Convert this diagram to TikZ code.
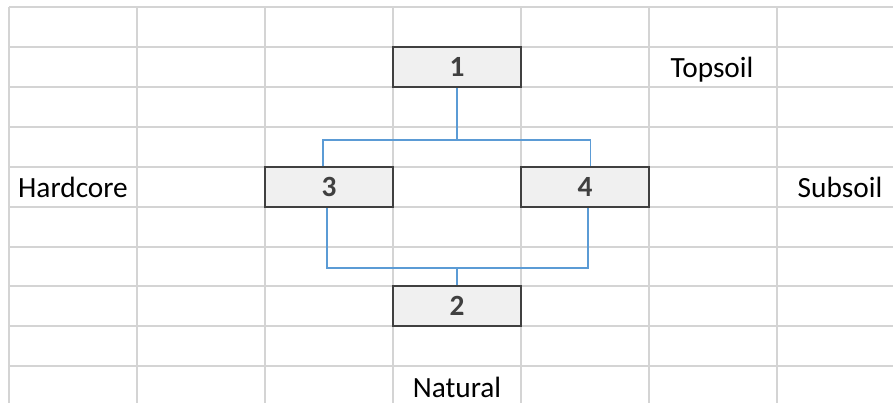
\documentclass[tikz,border=0pt]{standalone}
\usepackage{fontspec}
\setmainfont{Carlito}
\usepackage{tikz}
\usetikzlibrary{positioning}
\definecolor{cellgrid}{HTML}{D4D4D4}
\definecolor{boxfill}{HTML}{F0F0F0}
\definecolor{boxline}{HTML}{404040}
\definecolor{linkblue}{HTML}{5B9BD5}
\tikzset{
  layerbox/.style={draw=boxline, line width=1.5pt, fill=boxfill, minimum width=96pt,
    minimum height=30pt, inner sep=0pt, text=boxline, font=\fontsize{22}{26}\selectfont\bfseries},
  layername/.style={anchor=base, inner sep=0pt, font=\fontsize{22}{26}\selectfont},
  link/.style={linkblue, line width=1.1pt},
}

\begin{document}
\begin{tikzpicture}[x=0.75pt, y=-0.75pt]
    \useasboundingbox (0,0) rectangle (893,403);
    \foreach \y in {7,47,87,127,167,207,247,286,326,366}
      \draw [cellgrid, line width=1.5pt] (9,\y) -- (893,\y);
    \foreach \x in {9,137,265,393,521,649,777}
      \draw [cellgrid, line width=1.5pt] (\x,7) -- (\x,403);

    \node [layerbox] (top) at (457,67) {1};
      \node [layerbox] (hard) at (329,187) {3};
      \node [layerbox] (sub) at (585,187) {4};
    \node [layerbox] (nat) at (457,306) {2};

    \node [layername] (topsoil) at (712,78) {Topsoil};
    \node [layername] (hardcore) at (73,197) {Hardcore};
    \node [layername] (subsoil) at (840,197) {Subsoil};
    \node [layername] (natural) at (457,397) {Natural};

    \coordinate (split) at (457,140);
    \coordinate (merge) at (457,268);
    \draw [link] (top.south) -- (split);
      \draw [link] ([xshift=-4.5pt]hard.north) |- (split) -| ([xshift=4pt]sub.north);
      \draw [link] ([xshift=-1.5pt]hard.south) |- (merge) -| ([xshift=2.25pt]sub.south);
    \draw [link] (merge) -- (nat.north);
  \end{tikzpicture}
\end{document}
